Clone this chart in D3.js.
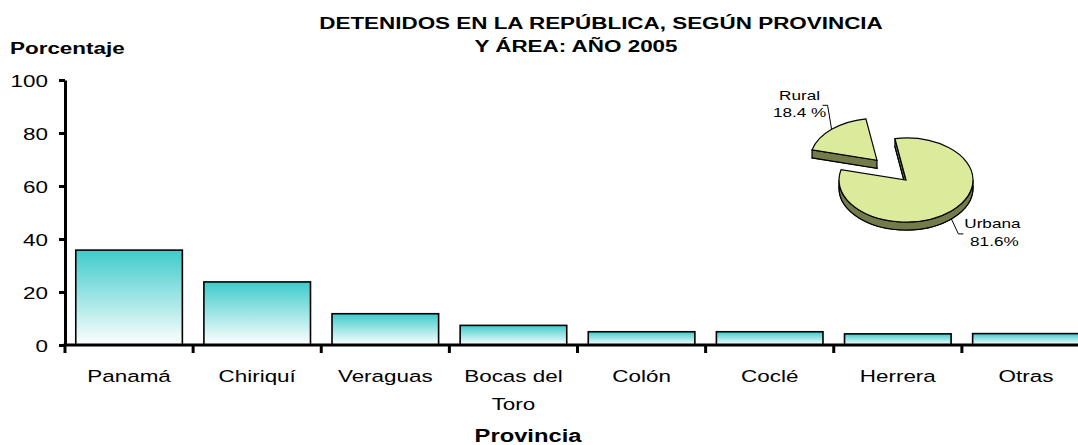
<!DOCTYPE html>
<html>
<head>
<meta charset="utf-8">
<script src="https://cdn.jsdelivr.net/npm/d3@7"></script>
<style>
  body { margin: 0; background: #fff; }
  svg { display: block; font-family: "Liberation Sans", Arial, sans-serif; }
</style>
</head>
<body>
<div class="chart"></div>
<script>
// data
var provincias = ["Panamá", "Chiriquí", "Veraguas", "Bocas del|Toro", "Colón", "Coclé", "Herrera", "Otras"];
var porcentajes = [35.8, 23.8, 11.8, 7.4, 5.0, 5.0, 4.2, 4.3];
var yTicks = [0, 20, 40, 60, 80, 100];
var areas = ["Urbana", "Rural"];
var areaPct = [81.6, 18.4];
var areaLabels = ["81.6%", "18.4 %"];

var width = 1078;
var height = 445;
var SX = 1.32; // text in the reference is stretched sideways

var svg = d3.select(".chart")
  .append("svg")
  .attr("width", width)
  .attr("height", height);

function addText(parent, x, y, str, size, weight, anchor) {
  return parent.append("text")
    .attr("transform", `translate(${x},${y}) scale(${SX},1)`)
    .attr("text-anchor", anchor || "middle")
    .style("font-size", size + "px")
    .style("font-weight", weight || "normal")
    .style("fill", "#000")
    .text(str);
}

// titles
addText(svg, 601, 29, "DETENIDOS EN LA REPÚBLICA, SEGÚN PROVINCIA", 17, "bold");
addText(svg, 576, 52, "Y ÁREA: AÑO 2005", 17, "bold");
addText(svg, 10, 54, "Porcentaje", 17, "bold", "start");
addText(svg, 528, 442, "Provincia", 18, "bold");

// scales
var yScale = d3.scaleLinear().domain([0, 100]).range([345, 80]);
var slot = d3.scaleBand().domain(provincias).range([65, 1090]);
var xScale = d3.scaleBand().domain(provincias).range([65, 1090])
  .paddingInner(0.168).paddingOuter(0.084);

// bar gradient
var grad = svg.append("defs").append("linearGradient")
  .attr("id", "barGrad")
  .attr("x1", 0).attr("y1", 0).attr("x2", 0).attr("y2", 1);
grad.append("stop").attr("offset", "0%").attr("stop-color", "#3ECBCB");
grad.append("stop").attr("offset", "100%").attr("stop-color", "#FFFFFF");

// bars
svg.selectAll(".bar")
  .data(provincias).enter()
  .append("rect")
  .attr("class", "bar")
  .attr("x", function (d) { return xScale(d) })
  .attr("width", xScale.bandwidth())
  .attr("y", function (d, i) { return yScale(porcentajes[i]) })
  .attr("height", function (d, i) { return yScale(0) - yScale(porcentajes[i]) })
  .style("fill", "url(#barGrad)")
  .style("stroke", "#000")
  .style("stroke-width", 1.6);

// y axis
var yAxis = d3.axisLeft(yScale).tickValues(yTicks).tickSize(6).tickSizeOuter(0);
var gy = svg.append("g")
  .attr("transform", "translate(65,0)")
  .call(yAxis);
gy.select(".domain").style("stroke", "#000").style("stroke-width", 3);
gy.selectAll(".tick line").style("stroke", "#000").style("stroke-width", 3);
gy.selectAll(".tick text")
  .attr("x", null).attr("dy", null)
  .attr("transform", `translate(-17,6) scale(${SX},1)`)
  .style("font-size", "17px")
  .style("font-family", '"Liberation Sans", Arial, sans-serif')
  .style("fill", "#000");

// x axis (ticks between categories)
svg.append("line")
  .attr("x1", 63.5).attr("x2", width)
  .attr("y1", yScale(0)).attr("y2", yScale(0))
  .style("stroke", "#000").style("stroke-width", 3);

svg.selectAll(".xtick")
  .data(provincias).enter()
  .append("line")
  .attr("class", "xtick")
  .attr("x1", function (d) { return slot(d) })
  .attr("x2", function (d) { return slot(d) })
  .attr("y1", yScale(0))
  .attr("y2", yScale(0) + 8)
  .style("stroke", "#000").style("stroke-width", 3);

provincias.forEach(function (p) {
  var cx = slot(p) + slot.bandwidth() / 2;
  p.split("|").forEach(function (line, k) {
    addText(svg, cx, 382 + k * 28, line, 17);
  });
});

// 3D pie
var cx = 906, cy = 180, rx = 67, ry = 42, depth = 8, explode = 0.64;
var topColor = "#DCEA9C", sideColor = "#737B4A";
var start = -9.5 * Math.PI / 180;
var pie = d3.pie().sort(null).startAngle(start).endAngle(start + 2 * Math.PI);
var slices = pie(areaPct);

function pt(c, a, dy) {
  return [c[0] + rx * Math.sin(a), c[1] - ry * Math.cos(a) + (dy || 0)];
}

function drawSlice(s, i) {
  var mid = (s.startAngle + s.endAngle) / 2;
  var off = i == 1 ? explode : 0;
  var c = [cx + rx * off * Math.sin(mid), cy - ry * off * Math.cos(mid)];
  var g = svg.append("g").attr("class", "slice " + areas[i]);
  var a0 = s.startAngle, a1 = s.endAngle;

  // bottom face
  var b0 = pt(c, a0, depth), b1 = pt(c, a1, depth);
  g.append("path")
    .attr("d", `M${c[0]},${c[1] + depth}L${b0}A${rx},${ry} 0 ${a1 - a0 > Math.PI ? 1 : 0} 1 ${b1}Z`)
    .style("fill", sideColor).style("stroke", "#000").style("stroke-width", 1.2);

  // radial walls
  [[a0, Math.sin(a0) < 0], [a1, Math.sin(a1) > 0]].forEach(function (w) {
    if (!w[1]) return;
    var p = pt(c, w[0]), q = pt(c, w[0], depth);
    g.append("path")
      .attr("d", `M${c}L${p}L${q}L${c[0]},${c[1] + depth}Z`)
      .style("fill", sideColor).style("stroke", "#000").style("stroke-width", 1.2);
  });

  // outer wall, front half only
  for (var k = -1; k <= 1; k++) {
    var lo = Math.max(a0, Math.PI / 2 + k * 2 * Math.PI);
    var hi = Math.min(a1, 3 * Math.PI / 2 + k * 2 * Math.PI);
    if (hi > lo) {
      g.append("path")
        .attr("d", `M${pt(c, lo)}A${rx},${ry} 0 0 1 ${pt(c, hi)}L${pt(c, hi, depth)}A${rx},${ry} 0 0 0 ${pt(c, lo, depth)}Z`)
        .style("fill", sideColor).style("stroke", "#000").style("stroke-width", 1.2);
    }
  }

  // top face
  g.append("path")
    .attr("d", `M${c}L${pt(c, a0)}A${rx},${ry} 0 ${a1 - a0 > Math.PI ? 1 : 0} 1 ${pt(c, a1)}Z`)
    .style("fill", topColor).style("stroke", "#000").style("stroke-width", 1.2);

  // leader line and label
  var m = pt(c, mid, Math.cos(mid) < 0 ? depth : 0);
  if (i == 1) {
    svg.append("path")
      .attr("d", `M${m}L${m[0] - 4},${m[1] - 24}L${m[0] - 9},${m[1] - 24}`)
      .style("fill", "none").style("stroke", "#000").style("stroke-width", 1);
    addText(svg, m[0] - 32, m[1] - 29, areas[i], 13);
    addText(svg, m[0] - 32, m[1] - 12, areaLabels[i], 13);
  } else {
    svg.append("path")
      .attr("d", `M${m}L${m[0] + 7},${m[1] + 15}L${m[0] + 12},${m[1] + 15}`)
      .style("fill", "none").style("stroke", "#000").style("stroke-width", 1);
    addText(svg, m[0] + 41, m[1] + 9, areas[i], 13);
    addText(svg, m[0] + 43, m[1] + 27, areaLabels[i], 13);
  }
}

drawSlice(slices[1], 1);
drawSlice(slices[0], 0);
</script>
</body>
</html>
